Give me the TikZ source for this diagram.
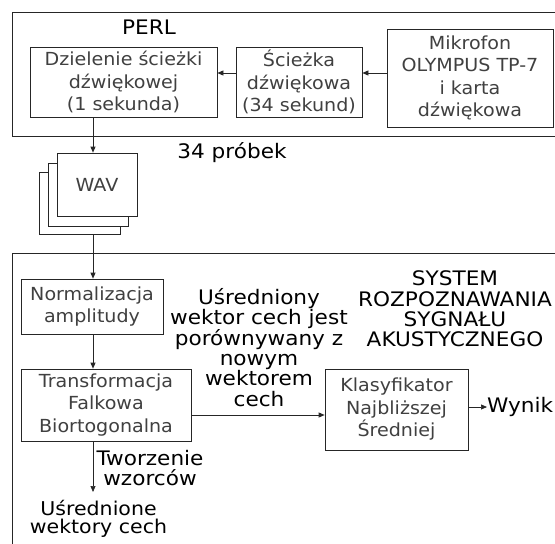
\documentclass[tikz,border=0pt]{standalone}
\usepackage{fontspec}
\setmainfont{DejaVu Sans}
\newfontfamily\boxfont[FakeStretch=1.06]{DejaVu Sans}
\newfontfamily\labfont[FakeStretch=1.08]{DejaVu Sans}
\usetikzlibrary{arrows.meta}
\begin{document}
\begin{tikzpicture}[x=1pt,y=-1pt,
  box/.style={draw=black!85,line width=0.7pt,fill=white,inner sep=0pt,align=center,text=black!75,font=\boxfont\fontsize{18}{22.5}\selectfont},
  lab/.style={inner sep=0pt,align=center,font=\labfont\fontsize{20}{20.3}\selectfont},
  arr/.style={draw=black!85,line width=0.7pt,-{Triangle[length=6pt,width=5pt]}},
  frame/.style={draw=black!85,line width=0.9pt}]
\useasboundingbox (0,0) rectangle (555,544);
\clip (0,0) rectangle (555,544);
% containers
\draw[frame] (560,12) -- (12,12) -- (12,136) -- (560,136);
\draw[frame] (560,253) -- (12,253) -- (12,550);
% PERL part
\node[lab] (perl) at (149,27) {PERL};
\node[box,minimum width=187pt,minimum height=70pt] (dz) at (123.5,82) {Dzielenie ścieżki\\dźwiękowej\\(1 sekunda)};
\node[box,minimum width=126pt,minimum height=70pt] (sc) at (299,82) {Ścieżka\\dźwiękowa\\(34 sekund)};
\node[box,minimum width=166pt,minimum height=98pt] (mk) at (470,78) {Mikrofon\\OLYMPUS TP-7\\i karta\\dźwiękowa};
\draw[arr] (mk.west |- 0,73) -- (sc.east |- 0,73);
\draw[arr] (sc.west |- 0,73) -- (dz.east |- 0,73);
% WAV stack
\node[box,minimum width=81pt,minimum height=62pt] (wav3) at (79.5,203) {};
\node[box,minimum width=80pt,minimum height=63pt] (wav2) at (88,194.5) {};
\node[box,minimum width=80pt,minimum height=63pt] (wav1) at (97,184.5) {WAV};
\node[lab] (prob) at (232,153) {34 próbek};
\draw[arr] (dz.south -| 93,0) -- (wav1.north -| 93,0);
% recognition system
\node[box,minimum width=142pt,minimum height=55pt] (nm) at (92,306.5) {Normalizacja\\amplitudy};
\node[box,minimum width=170pt,minimum height=72pt] (tf) at (106,405) {Transformacja\\Falkowa\\Biortogonalna};
\node[box,minimum width=143pt,minimum height=81pt] (kl) at (396.5,409.5) {Klasyfikator\\Najbliższej\\Średniej};
\draw[arr] (wav3.south -| 93,0) -- (nm.north -| 93,0);
\draw[arr] (nm.south -| 93,0) -- (tf.north -| 93,0);
\draw[arr] (tf.east |- 0,415) -- (kl.west |- 0,415);
\node[lab,anchor=west] (wy) at (487,407) {Wynik};
\draw[arr] (kl.east |- wy.west) -- (wy.west);
\node[lab] (cmp) at (259,347.5) {Uśredniony\\wektor cech jest\\porównywany z\\nowym\\wektorem\\cech};
\node[lab] (sys) at (455,309) {SYSTEM\\ROZPOZNAWANIA\\SYGNAŁU\\AKUSTYCZNEGO};
\node[lab] (twz) at (150,468) {Tworzenie\\wzorców};
\coordinate (tip) at (93,492);
\draw[arr] (tf.south -| tip) -- (tip);
\node[lab,font=\labfont\fontsize{19}{18.5}\selectfont] (usr) at (98.5,519) {Uśrednione\\wektory cech};
\end{tikzpicture}
\end{document}
